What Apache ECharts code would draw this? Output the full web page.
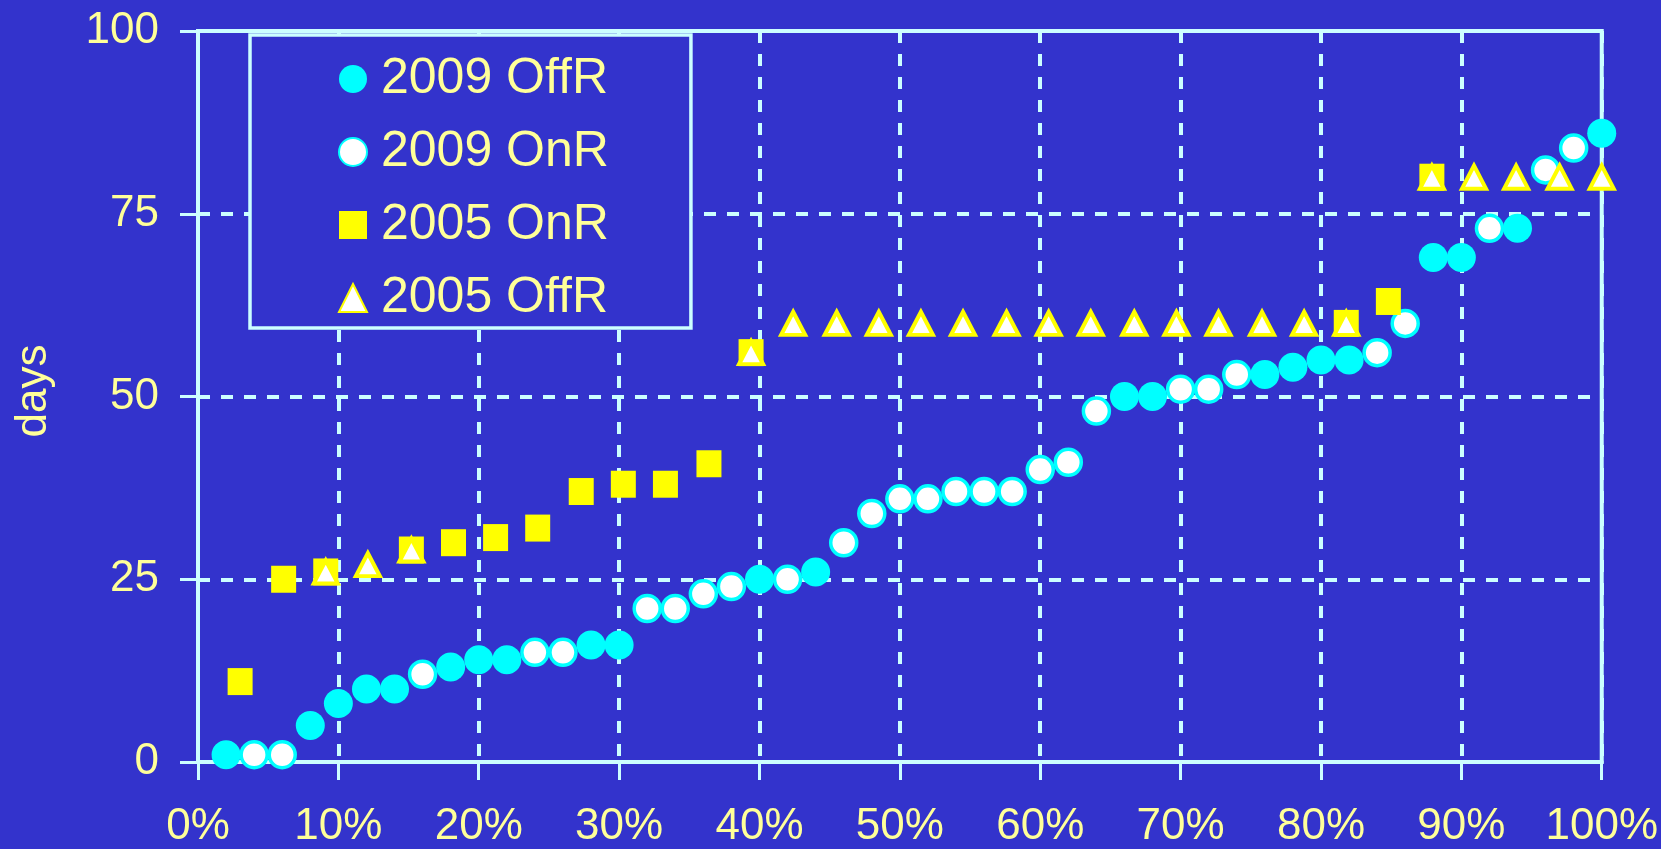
<!DOCTYPE html>
<html>
<head>
<meta charset="utf-8">
<script src="https://cdn.jsdelivr.net/npm/echarts@6/dist/echarts.min.js"></script>
<style>
  html, body { margin: 0; padding: 0; background: #3333CC; }
  #chart { width: 1661px; height: 849px; }
</style>
</head>
<body>
<div id="chart"></div>
<script>
// ---- data ----
const seriesNames = ['2009 OffR', '2009 OnR', '2005 OnR', '2005 OffR'];

const offR2009X = [2, 8, 10, 12, 14, 18, 20, 22, 28, 30, 40, 44, 66, 68, 76, 78, 80, 82, 88, 90, 94, 100];
const offR2009Y = [1, 5, 8, 10, 10, 13, 14, 14, 16, 16, 25, 26, 50, 50, 53, 54, 55, 55, 69, 69, 73, 86];

const onR2009X = [4, 6, 16, 24, 26, 32, 34, 36, 38, 42, 46, 48, 50, 52, 54, 56, 58, 60, 62, 64, 70, 72, 74, 84, 86, 92, 96, 98];
const onR2009Y = [1, 1, 12, 15, 15, 21, 21, 23, 24, 25, 30, 34, 36, 36, 37, 37, 37, 40, 41, 48, 51, 51, 53, 56, 60, 73, 81, 84];

const onR2005X = [3.0, 6.1, 9.1, 15.2, 18.2, 21.2, 24.2, 27.3, 30.3, 33.3, 36.4, 39.4, 81.8, 84.8, 87.9];
const onR2005Y = [11, 25, 26, 29, 30, 30.7, 32, 37, 38, 38, 40.8, 56, 60, 63, 80];

const offR2005X = [9.1, 12.1, 15.2, 39.4, 42.4, 45.5, 48.5, 51.5, 54.5, 57.6, 60.6, 63.6, 66.7, 69.7, 72.7, 75.8, 78.8, 81.8, 87.9, 90.9, 93.9, 97.0, 100];
const offR2005Y = [26, 27, 29, 56, 60, 60, 60, 60, 60, 60, 60, 60, 60, 60, 60, 60, 60, 60, 80, 80, 80, 80, 80];

const xTicks = [0, 10, 20, 30, 40, 50, 60, 70, 80, 90, 100];
const yTicks = [0, 25, 50, 75, 100];
const yAxisTitle = 'days';

// ---- styling ----
const BG = '#3333CC';
const LINE = '#CCFFFF';
const TXT = '#FFFF99';
const CYAN = '#00FFFF';
const YEL = '#FFFF00';
const FONT = '"Liberation Sans", Arial, sans-serif';

function zip(xs, ys) { return xs.map((x, i) => [x, ys[i]]); }

const chart = echarts.init(document.getElementById('chart'), null, { renderer: 'canvas' });

const axisCommon = {
  type: 'value',
  axisLine: { show: true, onZero: false, lineStyle: { color: LINE, width: 4 } },
  axisTick: { show: true, inside: false, length: 18, lineStyle: { color: LINE, width: 3 } },
  splitLine: { show: true, lineStyle: { color: LINE, width: 4, type: [12, 11] } }
};

chart.setOption({
  animation: false,
  backgroundColor: BG,
  textStyle: { fontFamily: FONT },
  grid: { left: 198, right: 59, top: 31, bottom: 87, show: true, borderColor: LINE, borderWidth: 4, backgroundColor: 'transparent' },
  xAxis: Object.assign({}, axisCommon, {
    min: xTicks[0], max: xTicks[xTicks.length - 1], interval: xTicks[1] - xTicks[0],
    axisLabel: { color: TXT, fontSize: 44, fontFamily: FONT, margin: 43, formatter: '{value}%' }
  }),
  yAxis: Object.assign({}, axisCommon, {
    min: yTicks[0], max: yTicks[yTicks.length - 1], interval: yTicks[1] - yTicks[0],
    axisLabel: { color: TXT, fontSize: 44, fontFamily: FONT, margin: 39 }
  }),
  legend: {
    orient: 'vertical',
    left: 250, top: 35,
    padding: [19, 82, 5, 88],
    itemGap: 23,
    itemWidth: 28, itemHeight: 28,
    borderColor: LINE, borderWidth: 3.5,
    backgroundColor: BG,
    textStyle: { color: TXT, fontSize: 50, fontFamily: FONT, padding: [0, 0, 0, 9] },
    data: seriesNames
  },
  graphic: [{
    type: 'text',
    x: 34, y: 391,
    rotation: Math.PI / 2,
    style: { text: yAxisTitle, fill: TXT, font: '44px ' + FONT, textAlign: 'center', textVerticalAlign: 'middle' }
  }],
  series: [
    {
      name: seriesNames[0], type: 'scatter', symbol: 'circle', symbolSize: 29,
      itemStyle: { color: CYAN, opacity: 1 },
      emphasis: { disabled: true },
      data: zip(offR2009X, offR2009Y)
    },
    {
      name: seriesNames[1], type: 'scatter', symbol: 'circle', symbolSize: 26,
      itemStyle: { color: '#FFFFFF', borderColor: CYAN, borderWidth: 3.5, opacity: 1 },
      emphasis: { disabled: true },
      data: zip(onR2009X, onR2009Y)
    },
    {
      name: seriesNames[2], type: 'scatter', symbol: 'rect', symbolSize: [25, 27],
      itemStyle: { color: YEL, opacity: 1 },
      emphasis: { disabled: true },
      data: zip(onR2005X, onR2005Y)
    },
    {
      name: seriesNames[3], type: 'scatter', symbol: 'triangle', symbolSize: [24, 23],
      itemStyle: { color: '#FFFFFF', borderColor: YEL, borderWidth: 4, opacity: 1 },
      emphasis: { disabled: true },
      data: zip(offR2005X, offR2005Y)
    }
  ]
});
</script>
</body>
</html>
